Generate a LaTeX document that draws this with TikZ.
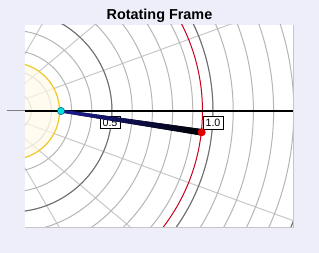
\documentclass[tikz,border=0pt]{standalone}
\usepackage{fontspec}
\setmainfont{Liberation Sans}
\usetikzlibrary{calc}
\definecolor{panelbg}{RGB}{238,238,250}
\definecolor{gridgray}{RGB}{182,182,182}
\definecolor{spokegray}{RGB}{200,200,200}
\definecolor{ringdark}{RGB}{110,110,110}
\definecolor{ringred}{RGB}{200,0,30}
\definecolor{ringyellow}{RGB}{240,200,40}
\definecolor{corefill}{RGB}{255,250,232}
\definecolor{vecblue}{RGB}{28,28,150}
\definecolor{dotcyan}{RGB}{0,225,225}
\definecolor{dotred}{RGB}{225,0,0}

\begin{document}
\begin{tikzpicture}[
    x=0.75pt, y=-0.75pt,
    ring/.style={draw=gridgray, line width=0.75pt},
    spoke/.style={draw=spokegray, line width=0.75pt},
    tag/.style={draw=black, fill=white, line width=0.6pt, inner sep=1.9pt, font=\fontsize{8}{9}\selectfont},
    dot/.style={circle, inner sep=0pt, minimum size=5.5pt}
]

\fill[panelbg] (0,0) rectangle (319,253);
\useasboundingbox (0,0) rectangle (319,253);
\fill[white] (25,25) rectangle (294,228);

\coordinate (centre) at (11,111);
\coordinate (hub) at (-8,111);

\begin{scope}
\clip (25,25) rectangle (294,228);
\foreach \a in {20,40,60,-20,-40,-60}
  \draw[spoke] (hub) -- ++(\a:500);
\foreach \k in {1,...,16}
  \draw[ring] (centre) circle[radius={15.15pt*\k}];
\foreach \k in {5,10,15}
  \draw[ring, draw=ringdark] (centre) circle[radius={15.15pt*\k}];
\fill[corefill, fill opacity=0.7] (centre) circle[radius=36.4pt];
\draw[ringyellow, line width=0.9pt] (centre) circle[radius=36.4pt];
\draw[ringred, line width=0.75pt] (centre) circle[radius=143.6pt];
\end{scope}

\draw[gray, line width=0.75pt] (7,111) -- (25,111);
\draw[black, line width=1.1pt] (25,111) -- (294,111);
\draw[gray!45, line width=0.75pt] (25,228) -- (294,228) -- (294,25);

\node[font=\bfseries\fontsize{10.8}{12}\selectfont, anchor=base] (title) at (159.5,20) {Rotating Frame};

\node[tag] (lblhalf) at (110,122.5) {0.5};
\node[tag] (lblone) at (213,123) {1.0};

\coordinate (inner) at (61,111);
\coordinate (outer) at (201.7,132.3);
\fill[left color=vecblue, middle color=vecblue!85!black, right color=black]
  ($(inner)!1.1pt!90:(outer)$) -- ($(outer)!2.4pt!-90:(inner)$) --
  ($(outer)!2.4pt!90:(inner)$) -- ($(inner)!1.1pt!-90:(outer)$) -- cycle;

\node[dot, fill=dotcyan, draw=teal!60!black, line width=0.3pt] (innerdot) at (inner) {};
\node[dot, fill=dotred, minimum size=6pt] (outerdot) at (outer) {};

\end{tikzpicture}
\end{document}
